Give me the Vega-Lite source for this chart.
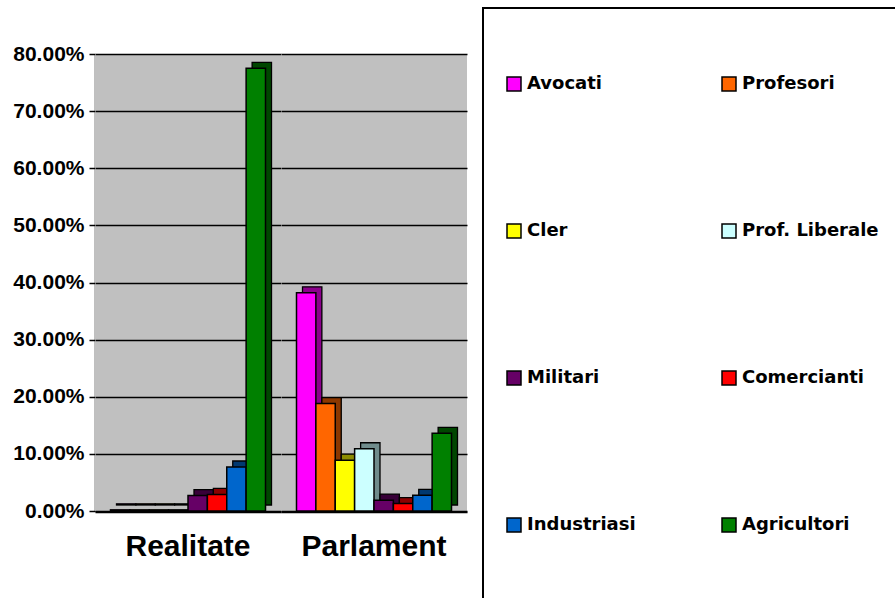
{
  "$schema": "https://vega.github.io/schema/vega-lite/v6.json",
  "autosize": {"type": "pad"},
  "padding": {"left": 12, "top": 7, "right": 0, "bottom": 0},
  "background": "white",
  "data": {
    "values": [
      {"grup": "Realitate", "categorie": "Avocati", "pondere": 0.002},
      {"grup": "Realitate", "categorie": "Profesori", "pondere": 0.002},
      {"grup": "Realitate", "categorie": "Cler", "pondere": 0.002},
      {"grup": "Realitate", "categorie": "Prof. Liberale", "pondere": 0.002},
      {"grup": "Realitate", "categorie": "Militari", "pondere": 0.027},
      {"grup": "Realitate", "categorie": "Comercianti", "pondere": 0.029},
      {"grup": "Realitate", "categorie": "Industriasi", "pondere": 0.077},
      {"grup": "Realitate", "categorie": "Agricultori", "pondere": 0.775},
      {"grup": "Parlament", "categorie": "Avocati", "pondere": 0.382},
      {"grup": "Parlament", "categorie": "Profesori", "pondere": 0.188},
      {"grup": "Parlament", "categorie": "Cler", "pondere": 0.089},
      {"grup": "Parlament", "categorie": "Prof. Liberale", "pondere": 0.109},
      {"grup": "Parlament", "categorie": "Militari", "pondere": 0.019},
      {"grup": "Parlament", "categorie": "Comercianti", "pondere": 0.013},
      {"grup": "Parlament", "categorie": "Industriasi", "pondere": 0.0275},
      {"grup": "Parlament", "categorie": "Agricultori", "pondere": 0.136}
    ]
  },
  "facet": {
    "column": {
      "field": "grup",
      "type": "nominal",
      "sort": ["Realitate", "Parlament"],
      "header": {
        "title": null,
        "labelOrient": "bottom",
        "labelFont": "Liberation Sans",
        "labelFontSize": 30,
        "labelFontWeight": "bold",
        "labelColor": "black",
        "labelPadding": 20
      }
    }
  },
  "spacing": 0,
  "spec": {
    "width": 186,
    "height": 457,
    "encoding": {
      "x": {
        "field": "categorie",
        "type": "nominal",
        "sort": ["Avocati", "Profesori", "Cler", "Prof. Liberale", "Militari", "Comercianti", "Industriasi", "Agricultori"],
        "scale": {"paddingInner": 0, "paddingOuter": 0.8},
        "axis": {
          "title": null,
          "labels": false,
          "ticks": false,
          "domainColor": "black",
          "domainWidth": 1.5
        }
      },
      "y": {
        "field": "pondere",
        "type": "quantitative",
        "scale": {"domain": [0, 0.8], "nice": false},
        "axis": {
          "title": null,
          "values": [0, 0.1, 0.2, 0.3, 0.4, 0.5, 0.6, 0.7, 0.8],
          "format": ".2%",
          "labelFont": "Liberation Sans",
          "labelFontSize": 21,
          "labelFontWeight": "bold",
          "labelColor": "black",
          "labelPadding": 5,
          "tickSize": 6,
          "tickColor": "black",
          "tickWidth": 1.5,
          "domainColor": "black",
          "domainWidth": 1.5,
          "grid": true,
          "gridColor": "black",
          "gridWidth": 1.5
        }
      }
    },
    "layer": [
      {
        "mark": {"type": "bar", "xOffset": 6, "yOffset": -6, "y2Offset": -1, "stroke": "black", "strokeWidth": 1.3},
        "encoding": {
          "color": {
            "field": "categorie",
            "type": "nominal",
            "scale": {
              "domain": ["Avocati", "Profesori", "Cler", "Prof. Liberale", "Militari", "Comercianti", "Industriasi", "Agricultori"],
              "range": ["#ff00ff", "#ff6600", "#ffff00", "#ccffff", "#660066", "#ff0000", "#0066cc", "#008000"]
            }
          }
        }
      },
      {
        "mark": {"type": "bar", "xOffset": 6, "yOffset": -6, "y2Offset": -1, "color": "black", "opacity": 0.45}
      },
      {
        "mark": {"type": "bar", "stroke": "black", "strokeWidth": 1.5},
        "encoding": {
          "color": {
            "field": "categorie",
            "type": "nominal",
            "legend": {
              "orient": "none",
              "legendX": 388,
              "legendY": -46,
              "direction": "horizontal",
              "columns": 2,
              "title": null,
              "padding": 22,
              "strokeColor": "black",
              "fillColor": "white",
              "symbolType": "square",
              "symbolSize": 196,
              "symbolStrokeColor": "black",
              "symbolStrokeWidth": 1.5,
              "symbolOpacity": 1,
              "labelFont": "DejaVu Sans",
              "labelFontSize": 18,
              "labelFontWeight": "bold",
              "labelColor": "black",
              "labelOffset": 4,
              "labelLimit": 300,
              "clipHeight": 108,
              "rowPadding": 39,
              "columnPadding": 84
            }
          }
        }
      }
    ]
  },
  "config": {
    "view": {"fill": "#c0c0c0", "stroke": null},
    "legend": {"strokeWidth": 2}
  }
}
